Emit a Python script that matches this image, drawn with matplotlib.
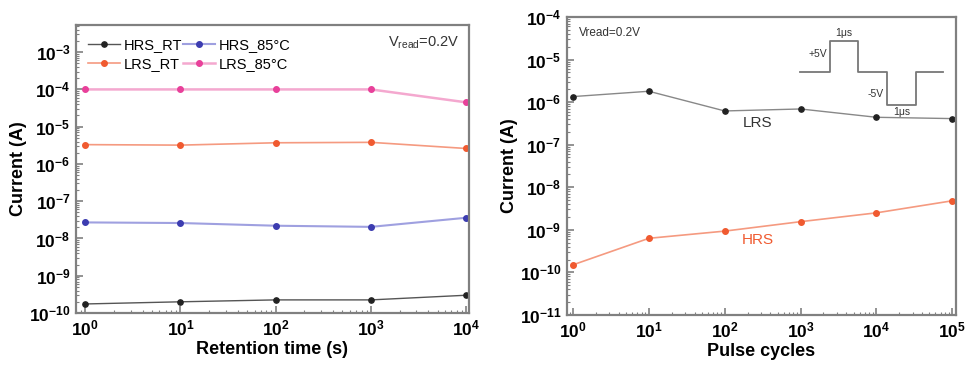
import numpy as np
import matplotlib
matplotlib.use('Agg')
import matplotlib.pyplot as plt
from matplotlib.ticker import LogLocator, NullFormatter

plt.rcParams['font.family'] = ['Liberation Sans', 'DejaVu Sans']

# retention test data
ret_time = [1, 10, 100, 1000, 10000]
hrs_rt = [1.75e-10, 2.0e-10, 2.25e-10, 2.25e-10, 3.0e-10]
lrs_rt = [3.3e-6, 3.2e-6, 3.7e-6, 3.8e-6, 2.6e-6]
hrs_85 = [2.7e-8, 2.6e-8, 2.2e-8, 2.05e-8, 3.6e-8]
lrs_85 = [1.0e-4, 1.0e-4, 1.0e-4, 1.0e-4, 4.5e-5]

# endurance test data
cycles = [1, 10, 100, 1000, 10000, 100000]
lrs_cyc = [1.35e-6, 1.8e-6, 6.2e-7, 6.9e-7, 4.4e-7, 4.1e-7]
hrs_cyc = [1.5e-10, 6.3e-10, 9.3e-10, 1.55e-9, 2.5e-9, 4.8e-9]

fig = plt.figure(figsize=(9.69, 3.70), dpi=100)
ax1 = fig.add_axes([0.0784, 0.154, 0.4056, 0.778])
ax2 = fig.add_axes([0.585, 0.149, 0.4016, 0.805])

frame = '#808080'


def style_axis(ax):
    ax.set_xscale('log')
    ax.set_yscale('log')
    for s in ax.spines.values():
        s.set_color(frame)
        s.set_linewidth(1.6)
    ax.tick_params(which='both', direction='in', color=frame, top=False, right=False)
    ax.tick_params(which='major', length=5, width=1.2, labelsize=12.5, pad=4)
    ax.tick_params(which='minor', length=2.5, width=0.8)
    ax.xaxis.set_minor_locator(LogLocator(base=10, subs=np.arange(2, 10), numticks=20))
    ax.yaxis.set_minor_locator(LogLocator(base=10, subs=np.arange(2, 10), numticks=30))
    ax.xaxis.set_minor_formatter(NullFormatter())
    ax.yaxis.set_minor_formatter(NullFormatter())


# left: retention
ax1.plot(ret_time, hrs_rt, '-', color='#555555', lw=1.0, marker='o', ms=3.8,
         mfc='#222222', mec='#222222', label='HRS_RT')
ax1.plot(ret_time, lrs_rt, '-', color='#f59a80', lw=1.2, marker='o', ms=4,
         mfc='#f05a30', mec='#f05a30', label='LRS_RT')
ax1.plot(ret_time, hrs_85, '-', color='#9fa0e0', lw=1.5, marker='o', ms=4,
         mfc='#3c3cb0', mec='#3c3cb0', label='HRS_85°C')
ax1.plot(ret_time, lrs_85, '-', color='#f4a8cf', lw=1.8, marker='o', ms=4,
         mfc='#e8409a', mec='#e8409a', label='LRS_85°C')
style_axis(ax1)
ax1.set_xlim(0.8, 1.07e4)
ax1.set_ylim(1e-10, 5.3e-3)
ax1.set_yticks([1e-10, 1e-9, 1e-8, 1e-7, 1e-6, 1e-5, 1e-4, 1e-3])
ax1.set_xticks([1, 10, 100, 1000, 10000])
for lab in ax1.get_xticklabels() + ax1.get_yticklabels():
    lab.set_fontweight('bold')
ax1.set_xlabel('Retention time (s)', fontsize=13, fontweight='bold', labelpad=2)
ax1.set_ylabel('Current (A)', fontsize=13, fontweight='bold', labelpad=1)
ax1.legend(loc='upper left', ncol=2, frameon=False, fontsize=10.5,
           handlelength=2.2, handletextpad=0.3, columnspacing=0.0,
           labelspacing=0.35, borderaxespad=0.4, bbox_to_anchor=(0.0, 0.995))
ax1.text(0.975, 0.94, r'V$_{\mathregular{read}}$=0.2V', transform=ax1.transAxes,
         ha='right', va='center', fontsize=10.5, color='#333333')

# right: endurance
ax2.plot(cycles, lrs_cyc, '-', color='#888888', lw=1.0, marker='o', ms=3.8,
         mfc='#222222', mec='#222222')
ax2.plot(cycles, hrs_cyc, '-', color='#f59a80', lw=1.2, marker='o', ms=4,
         mfc='#f05a30', mec='#f05a30')
style_axis(ax2)
ax2.set_xlim(0.83, 1.12e5)
ax2.set_ylim(1e-11, 1e-4)
ax2.set_yticks([1e-11, 1e-10, 1e-9, 1e-8, 1e-7, 1e-6, 1e-5, 1e-4])
ax2.set_xticks([1, 10, 100, 1000, 10000, 100000])
for lab in ax2.get_xticklabels() + ax2.get_yticklabels():
    lab.set_fontweight('bold')
ax2.set_xlabel('Pulse cycles', fontsize=13, fontweight='bold', labelpad=2)
ax2.set_ylabel('Current (A)', fontsize=13, fontweight='bold', labelpad=1)
ax2.text(270, 3.2e-7, 'LRS', ha='center', va='center', fontsize=11, color='#333333')
ax2.text(270, 5.8e-10, 'HRS', ha='center', va='center', fontsize=11, color='#f05a30')
ax2.text(0.03, 0.945, 'Vread=0.2V', transform=ax2.transAxes, ha='left', va='center',
         fontsize=8.5, color='#333333')

# pulse waveform sketch
px = [0.60, 0.675, 0.675, 0.748, 0.748, 0.822, 0.822, 0.897, 0.897, 0.966]
py = [0.815, 0.815, 0.92, 0.92, 0.815, 0.815, 0.705, 0.705, 0.815, 0.815]
ax2.plot(px, py, '-', color='#777777', lw=1.3, transform=ax2.transAxes)
ax2.text(0.712, 0.945, '1μs', transform=ax2.transAxes, ha='center', va='center',
         fontsize=7.5, color='#333333')
ax2.text(0.668, 0.875, '+5V', transform=ax2.transAxes, ha='right', va='center',
         fontsize=7.5, color='#333333')
ax2.text(0.815, 0.74, '-5V', transform=ax2.transAxes, ha='right', va='center',
         fontsize=7.5, color='#333333')
ax2.text(0.86, 0.68, '1μs', transform=ax2.transAxes, ha='center', va='center',
         fontsize=7.5, color='#333333')

fig.savefig('out.png', dpi=100)
